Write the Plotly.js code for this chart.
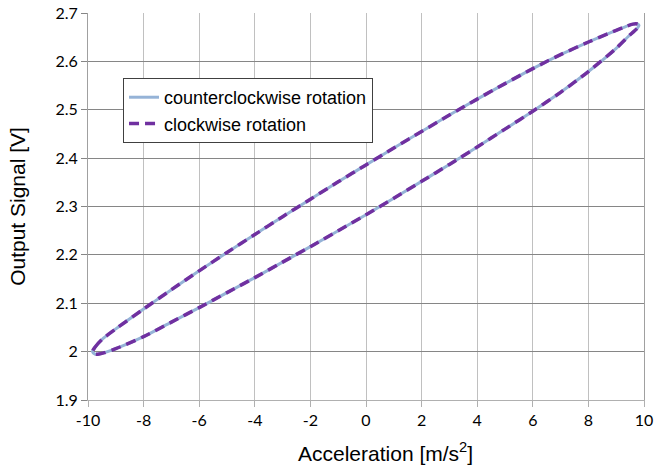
<!DOCTYPE html>
<html>
<head>
<meta charset="utf-8">
<script src="https://cdn.plot.ly/plotly-3.0.1.min.js"></script>
<style>html,body{margin:0;padding:0;background:#fff;}#chart{width:654px;height:470px;}</style>
</head>
<body>
<div id="chart"></div>
<script>
// Loop: lower branch left→right, then upper branch right→left
const accel = [-9.84, -9.75, -9.6, -9.4, -9, -8, -7, -6, -5, -4, -3, -2, -1, 0, 1, 2, 3, 4, 5, 6, 7, 8, 9, 9.5, 9.75, 9.82,
               9.78, 9.6, 9.3, 9, 8, 7, 6, 5, 4, 3, 2, 1, 0, -1, -2, -3, -4, -5, -6, -7, -8, -9, -9.5, -9.75, -9.84];
const signal = [2.0, 1.995, 1.995, 1.998, 2.006, 2.031, 2.061, 2.091, 2.122, 2.153, 2.185, 2.217, 2.250, 2.283, 2.317, 2.352, 2.387, 2.423, 2.460, 2.497, 2.536, 2.579, 2.627, 2.655, 2.668, 2.674,
                2.677, 2.677, 2.671, 2.664, 2.640, 2.614, 2.585, 2.554, 2.522, 2.489, 2.455, 2.421, 2.386, 2.351, 2.315, 2.279, 2.242, 2.205, 2.167, 2.128, 2.088, 2.047, 2.025, 2.009, 2.0];
const accelCW = accel.slice().reverse();
const signalCW = signal.slice().reverse();
const seriesNames = ["counterclockwise rotation", "clockwise rotation"];
const xTicks = [-10, -8, -6, -4, -2, 0, 2, 4, 6, 8, 10];
const yTicks = [1.9, 2.0, 2.1, 2.2, 2.3, 2.4, 2.5, 2.6, 2.7];
const yTickText = ["1.9", "2", "2.1", "2.2", "2.3", "2.4", "2.5", "2.6", "2.7"];

const traces = [
  {x: accel, y: signal, name: seriesNames[0], type: "scatter", mode: "lines",
   line: {color: "#95B3D7", width: 3, shape: "spline", smoothing: 0.8}},
  {x: accelCW, y: signalCW, name: seriesNames[1], type: "scatter", mode: "lines",
   line: {color: "#7030A0", width: 3.5, dash: "10px,6px", shape: "spline", smoothing: 0.8}}
];

const arial = "'Liberation Sans', Arial, sans-serif";
const tickFont = {family: "Lato, 'Open Sans', sans-serif", size: 16, color: "#000"};
const layout = {
  width: 654, height: 470,
  margin: {l: 88, r: 10, t: 13, b: 70},
  paper_bgcolor: "#fff", plot_bgcolor: "#fff",
  showlegend: true,
  legend: {x: 0.063, y: 0.832, xanchor: "left", yanchor: "top",
           bgcolor: "#fff", bordercolor: "#404040", borderwidth: 1,
           font: {family: arial, size: 18, color: "#000"},
           itemwidth: 30, tracegroupgap: 0},
  xaxis: {range: [-10, 10], tickvals: xTicks, ticktext: xTicks.map(String),
          showgrid: true, gridcolor: "#c0c0c0", gridwidth: 1,
          zeroline: false, showline: true, linecolor: "#b0b0b0", linewidth: 1, mirror: false,
          ticks: "outside", ticklen: 6, tickcolor: "#b0b0b0",
          tickfont: tickFont},
  yaxis: {range: [1.9, 2.7], tickvals: yTicks, ticktext: yTickText,
          showgrid: true, gridcolor: "#868686", gridwidth: 1,
          zeroline: false, showline: true, linecolor: "#a0a0a0", linewidth: 1, mirror: true,
          ticks: "outside", ticklen: 6, tickcolor: "#868686",
          tickfont: tickFont,
          title: {text: "Output Signal [V]", standoff: 24,
                  font: {family: arial, size: 21, color: "#000"}}},
  annotations: [
    {text: "Acceleration [m/s<sup>2</sup>]", xref: "paper", yref: "paper",
     x: 0.535, y: -0.135, xanchor: "center", yanchor: "middle", showarrow: false,
     font: {family: arial, size: 21, color: "#000"}}
  ]
};
Plotly.newPlot("chart", traces, layout, {displayModeBar: false, staticPlot: true});
</script>
</body>
</html>
